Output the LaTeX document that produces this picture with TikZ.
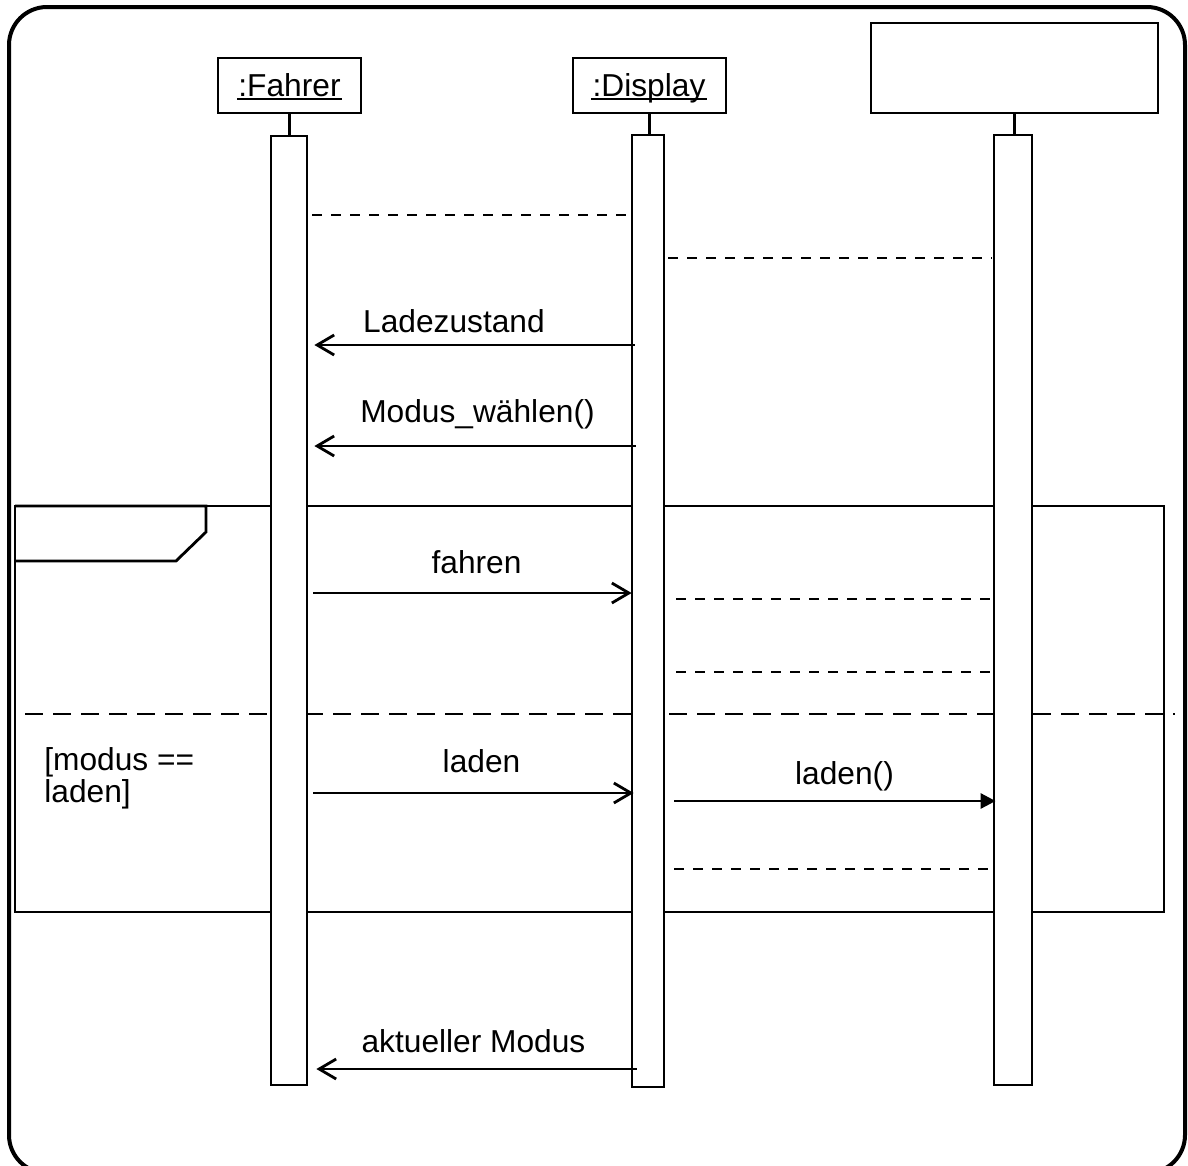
\documentclass[tikz,border=0pt]{standalone}
\usepackage{fontspec}
\setmainfont{Liberation Sans}
\usetikzlibrary{arrows.meta}

\begin{document}
\begin{tikzpicture}[x=1pt,y=-1pt,
  line width=2.8pt,
  lbl/.style={font=\fontsize{31.7}{31}\selectfont, inner sep=0pt},
  objbox/.style={draw, fill=white, line width=2.8pt, inner sep=0pt},
  act/.style={draw, fill=white, line width=2.8pt, inner sep=0pt},
  callmsg/.style={-{Straight Barb[length=17pt,width=20pt]}},
  syncmsg/.style={-{Triangle[length=15pt,width=15pt]}},
  retmsg/.style={dash pattern=on 10pt off 9pt},
  sepline/.style={dash pattern=on 18pt off 10pt},
]
\useasboundingbox (0,0) rectangle (1188,1165);
\clip (0,0) rectangle (1188,1165);

% outer diagram frame
\draw[line width=4pt, rounded corners=38pt] (9,7) rectangle (1185,1173);

% alt fragment with its (empty) operator tab
\draw (15,506) rectangle (1164,912);
\draw (15,506) -- (206,506) -- (206,532) -- (176,561) -- (15,561);
\draw[sepline] (25,714) -- (1175,714);

% participants
\node[objbox, minimum width=143pt, minimum height=55pt] (fahrer) at (289.5,85.5) {};
\node[objbox, minimum width=153pt, minimum height=55pt] (display) at (649.5,85.5) {};
\node[objbox, minimum width=287pt, minimum height=90pt] (third) at (1014.5,68) {};
\node[lbl, anchor=base] (tFahrer) at (289.5,96) {:Fahrer};
\node[lbl, anchor=base] (tDisplay) at (649,96) {:Display};
\draw[line width=2pt] ([yshift=-2.5pt]tFahrer.base west) -- ([yshift=-2.5pt]tFahrer.base east);
\draw[line width=2pt] ([yshift=-2.5pt]tDisplay.base west) -- ([yshift=-2.5pt]tDisplay.base east);

% activation bars
\node[act, minimum width=36pt, minimum height=949pt] (actF) at (289,610.5) {};
\node[act, minimum width=32pt, minimum height=952pt] (actD) at (648,611) {};
\node[act, minimum width=38pt, minimum height=950pt] (actS) at (1013,610) {};

% lifeline stubs
\draw (fahrer.south) -- (fahrer.south |- actF.north);
\draw (display.south) -- (display.south |- actD.north);
\draw (third.south) -- (third.south |- actS.north);

% message levels
\coordinate (m1) at (0,215);
\coordinate (m2) at (0,258);
\coordinate (m3) at (0,345);
\coordinate (m4) at (0,446);
\coordinate (m5) at (0,593);
\coordinate (m6) at (0,599);
\coordinate (m7) at (0,672);
\coordinate (m8) at (0,793);
\coordinate (m9) at (0,801);
\coordinate (m10) at (0,869);
\coordinate (m11) at (0,1069);

% messages
\draw[retmsg, shorten <=4pt, shorten >=-4pt] (actF.east |- m1) -- (actD.west |- m1);
\draw[retmsg, shorten <=3pt, shorten >=1pt] (actD.east |- m2) -- (actS.west |- m2);
\draw[callmsg, shorten <=-4pt, shorten >=6pt] (actD.west |- m3) -- (actF.east |- m3);
\draw[callmsg, shorten <=-5pt, shorten >=6pt] (actD.west |- m4) -- (actF.east |- m4);
\draw[callmsg, shorten <=5pt, shorten >=-1pt] (actF.east |- m5) -- (actD.west |- m5);
\draw[retmsg, shorten <=11pt, shorten >=-4pt] (actD.east |- m6) -- (actS.west |- m6);
\draw[retmsg, shorten <=11pt, shorten >=-4pt] (actD.east |- m7) -- (actS.west |- m7);
\draw[callmsg, shorten <=5pt, shorten >=-3pt] (actF.east |- m8) -- (actD.west |- m8);
\draw[syncmsg, shorten <=9pt, shorten >=-3pt] (actD.east |- m9) -- (actS.west |- m9);
\draw[retmsg, shorten <=9pt, shorten >=-3pt] (actD.east |- m10) -- (actS.west |- m10);
\draw[callmsg, shorten <=-6pt, shorten >=8pt] (actD.west |- m11) -- (actF.east |- m11);

% message labels
\node[lbl, anchor=base] (lLade) at (454,332) {Ladezustand};
\node[lbl, anchor=base] (lModus) at (477.5,422) {Modus\_wählen()};
\node[lbl, anchor=base] (lFahren) at (476.5,573) {fahren};
\node[lbl, anchor=base] (lLaden) at (481.5,772) {laden};
\node[lbl, anchor=base] (lLadenCall) at (844.5,784) {laden()};
\node[lbl, anchor=base] (lAktuell) at (473.5,1052) {aktueller Modus};

% guard of the second operand
\node[lbl, anchor=base west] (guardA) at (43,770) {[modus ==};
\node[lbl, anchor=base west] (guardB) at (43,802) {laden]};
\end{tikzpicture}
\end{document}
